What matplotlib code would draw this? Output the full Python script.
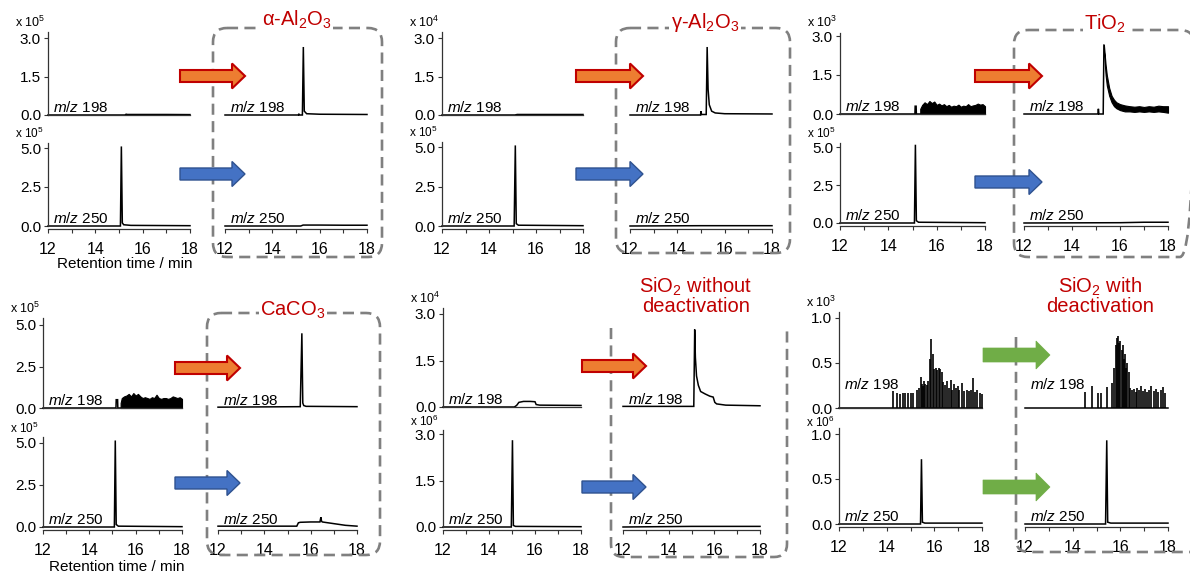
import matplotlib
matplotlib.use("Agg")
import matplotlib.pyplot as plt
import matplotlib.transforms as mtransforms
from matplotlib.patches import Polygon, PathPatch, FancyBboxPatch
from matplotlib.path import Path

plt.rcParams['font.family'] = ['Liberation Sans', 'DejaVu Sans']
plt.rcParams['mathtext.fontset'] = 'custom'
plt.rcParams['mathtext.rm'] = 'Liberation Sans'
plt.rcParams['mathtext.it'] = 'Liberation Sans:italic'
plt.rcParams['mathtext.bf'] = 'Liberation Sans:bold'
plt.rcParams['mathtext.sf'] = 'Liberation Sans'

W, H = 1190, 575

# ---------------------------------------------------------------- data
titles = [r"α-Al$_2$O$_3$", r"γ-Al$_2$O$_3$", r"TiO$_2$", r"CaCO$_3$",
          "SiO$_2$ without\ndeactivation", "SiO$_2$ with\ndeactivation"]
mz_labels = [r"$\mathit{m/z}$ 198", r"$\mathit{m/z}$ 250"]
exp198 = [5, 4, 3, 5, 4, 3]
exp250 = [5, 5, 5, 5, 6, 6]
yticks198 = [[0.0, 1.5, 3.0], [0.0, 1.5, 3.0], [0.0, 1.5, 3.0], [0.0, 2.5, 5.0], [0.0, 1.5, 3.0], [0.0, 0.5, 1.0]]
yticks250 = [[0.0, 2.5, 5.0], [0.0, 2.5, 5.0], [0.0, 2.5, 5.0], [0.0, 2.5, 5.0], [0.0, 1.5, 3.0], [0.0, 0.5, 1.0]]
xmajor = [12, 14, 16, 18]
xminor = [13, 15, 17]
arrow_kind = ["ob", "ob", "ob", "ob", "ob", "gg"]

# panel a: alpha-Al2O3
a_l198_t = [12.0, 15.25, 15.3, 15.35, 16.0, 17.0, 18.0]
a_l198_y = [0.0, 0.0, 0.03, 0.02, 0.02, 0.02, 0.015]
a_l250_t = [12.0, 15.06, 15.1, 15.14, 15.2, 15.5, 18.0]
a_l250_y = [0.0, 0.0, 5.1, 0.2, 0.08, 0.04, 0.02]
a_r198_t = [12.0, 15.1, 15.12, 15.14, 15.27, 15.31, 15.35, 15.45, 16.0, 18.0]
a_r198_y = [0.0, 0.0, 0.05, 0.0, 0.0, 2.65, 0.15, 0.05, 0.03, 0.02]
a_r250_t = [12.0, 15.2, 15.3, 16.0, 17.0, 18.0]
a_r250_y = [0.0, 0.0, 0.06, 0.06, 0.05, 0.05]

# panel b: gamma-Al2O3
b_l198_t = [12.0, 15.1, 15.2, 18.0]
b_l198_y = [0.0, 0.0, 0.02, 0.02]
b_l250_t = [12.0, 15.07, 15.12, 15.16, 15.25, 18.0]
b_l250_y = [0.0, 0.0, 5.1, 0.15, 0.05, 0.02]
b_r198_t = [12.0, 14.98, 15.0, 15.02, 15.22, 15.26, 15.3, 15.35, 15.45, 15.6, 16.0, 18.0]
b_r198_y = [0.0, 0.0, 0.15, 0.02, 0.02, 2.65, 1.0, 0.4, 0.15, 0.08, 0.05, 0.04]
b_r250_t = [12.0, 15.0, 18.0]
b_r250_y = [0.0, 0.02, 0.02]

# panel c: TiO2
c_l198_t = [12.0, 15.1, 15.11, 15.15, 15.16, 15.3, 18.0]
c_l198_y = [0.0, 0.0, 0.3, 0.3, 0.0, 0.0, 0.0]
c_l198_band_t = [15.32, 15.4, 15.5, 15.6, 15.7, 15.8, 15.9, 16.0, 16.1, 16.2, 16.3, 16.4, 16.5, 16.6,
                 16.7, 16.8, 16.9, 17.0, 17.1, 17.2, 17.3, 17.4, 17.5, 17.6, 17.7, 17.8, 17.9, 18.0]
c_l198_band_hi = [0.2, 0.35, 0.45, 0.38, 0.5, 0.42, 0.48, 0.35, 0.4, 0.33, 0.38, 0.3, 0.35, 0.28,
                  0.32, 0.3, 0.36, 0.28, 0.32, 0.3, 0.38, 0.3, 0.33, 0.35, 0.4, 0.36, 0.38, 0.3]
c_l250_t = [12.0, 15.08, 15.12, 15.16, 15.25, 18.0]
c_l250_y = [0.0, 0.0, 5.15, 0.15, 0.05, 0.02]
c_r198_t = [12.0, 15.08, 15.1, 15.12, 15.3, 15.33]
c_r198_y = [0.0, 0.0, 0.2, 0.0, 0.0, 2.65]
c_r198_band_t = [15.33, 15.4, 15.45, 15.55, 15.65, 15.75, 15.85, 16.0, 16.2, 16.4, 16.6, 16.8, 17.0, 17.2, 17.4, 17.6, 17.8, 18.0]
c_r198_band_lo = [2.4, 1.5, 1.1, 0.7, 0.45, 0.3, 0.22, 0.15, 0.1, 0.1, 0.08, 0.1, 0.08, 0.1, 0.08, 0.1, 0.08, 0.05]
c_r198_band_hi = [2.65, 1.9, 1.5, 1.0, 0.7, 0.55, 0.45, 0.38, 0.33, 0.3, 0.28, 0.3, 0.27, 0.3, 0.28, 0.32, 0.3, 0.3]
c_r250_t = [12.0, 16.0, 17.0, 18.0]
c_r250_y = [0.0, 0.02, 0.05, 0.05]

# panel d: CaCO3
d_l198_t = [12.0, 15.15, 15.16, 15.22, 15.23, 18.0]
d_l198_y = [0.0, 0.0, 0.5, 0.5, 0.0, 0.0]
d_l198_band_t = [15.35, 15.4, 15.5, 15.6, 15.7, 15.8, 15.9, 16.0, 16.1, 16.2, 16.3, 16.4, 16.5, 16.6,
                 16.7, 16.8, 16.9, 17.0, 17.1, 17.2, 17.3, 17.4, 17.5, 17.6, 17.7, 17.8, 17.9, 18.0]
d_l198_band_hi = [0.3, 0.6, 0.7, 0.75, 0.85, 0.7, 0.9, 0.75, 0.85, 0.7, 0.6, 0.65, 0.6, 0.55,
                  0.65, 0.6, 0.8, 0.6, 0.55, 0.6, 0.6, 0.55, 0.6, 0.7, 0.65, 0.6, 0.65, 0.55]
d_l250_t = [12.0, 15.08, 15.12, 15.16, 15.25, 18.0]
d_l250_y = [0.0, 0.0, 5.15, 0.15, 0.05, 0.02]
d_r198_t = [12.0, 15.55, 15.62, 15.66, 15.7, 15.8, 18.0]
d_r198_y = [0.05, 0.08, 4.5, 0.3, 0.15, 0.1, 0.08]
d_r250_t = [12.0, 15.4, 15.47, 15.55, 16.0, 16.4, 16.44, 16.47, 16.5, 16.6, 17.0, 17.5, 18.0]
d_r250_y = [0.05, 0.05, 0.25, 0.28, 0.3, 0.3, 0.58, 0.35, 0.3, 0.28, 0.2, 0.1, 0.05]

# panel e: SiO2 without deactivation
e_l198_t = [12.0, 15.1, 15.2, 15.3, 15.5, 15.8, 16.0, 16.05, 16.2, 18.0]
e_l198_y = [0.0, 0.0, 0.05, 0.15, 0.18, 0.18, 0.17, 0.08, 0.06, 0.05]
e_l250_t = [12.0, 14.97, 15.02, 15.06, 15.15, 18.0]
e_l250_y = [0.0, 0.0, 2.8, 0.05, 0.02, 0.01]
e_r198_t = [12.0, 15.1, 15.14, 15.17, 15.22, 15.3, 15.4, 15.6, 15.8, 15.95, 16.02, 16.1, 16.5, 18.0]
e_r198_y = [0.02, 0.02, 2.5, 1.6, 1.0, 0.7, 0.5, 0.42, 0.35, 0.32, 0.15, 0.1, 0.06, 0.04]
e_r250_t = [12.0, 15.0, 18.0]
e_r250_y = [0.0, 0.02, 0.02]

# panel f: SiO2 with deactivation
f_l198_t = [12.0, 18.0]
f_l198_y = [0.0, 0.0]
f_l198_spike_t = [14.25, 14.45, 14.58, 14.68, 14.78, 14.88, 15.0, 15.12, 15.28, 15.36, 15.42, 15.47, 15.52,
                  15.56, 15.62, 15.68, 15.75, 15.82, 15.88, 15.93, 15.98, 16.05, 16.12, 16.18, 16.25, 16.32,
                  16.38, 16.45, 16.52, 16.6, 16.68, 16.75, 16.82, 16.9, 16.98, 17.05, 17.15, 17.25, 17.35,
                  17.45, 17.55, 17.62, 17.7, 17.8, 17.9, 17.98]
f_l198_spike_h = [0.19, 0.17, 0.16, 0.17, 0.17, 0.17, 0.17, 0.17, 0.2, 0.22, 0.35, 0.27, 0.25,
                  0.3, 0.27, 0.26, 0.3, 0.55, 0.77, 0.6, 0.43, 0.45, 0.42, 0.44, 0.43, 0.4,
                  0.29, 0.26, 0.3, 0.22, 0.31, 0.2, 0.27, 0.22, 0.25, 0.2, 0.28, 0.19, 0.2,
                  0.19, 0.2, 0.33, 0.18, 0.2, 0.17, 0.16]
f_l250_t = [12.0, 15.42, 15.46, 15.5, 15.6, 18.0]
f_l250_y = [0.0, 0.0, 0.72, 0.02, 0.01, 0.01]
f_r198_t = [12.0, 18.0]
f_r198_y = [0.0, 0.0]
f_r198_spike_t = [14.52, 14.8, 15.05, 15.19, 15.43, 15.64, 15.75, 15.8, 15.85, 15.9, 15.95, 16.0, 16.05,
                  16.1, 16.15, 16.2, 16.25, 16.3, 16.36, 16.42, 16.5, 16.58, 16.65, 16.72, 16.8, 16.88,
                  16.95, 17.05, 17.12, 17.2, 17.3, 17.4, 17.5, 17.6, 17.7, 17.8, 17.88]
f_r198_spike_h = [0.18, 0.25, 0.17, 0.17, 0.23, 0.28, 0.45, 0.7, 0.78, 0.8, 0.72, 0.75, 0.65,
                  0.7, 0.55, 0.6, 0.45, 0.5, 0.4, 0.22, 0.2, 0.21, 0.18, 0.22, 0.2, 0.25,
                  0.19, 0.21, 0.18, 0.2, 0.25, 0.19, 0.21, 0.18, 0.2, 0.23, 0.17]
f_r250_t = [12.0, 15.38, 15.43, 15.47, 15.6, 18.0]
f_r250_y = [0.0, 0.0, 0.93, 0.02, 0.01, 0.01]

lines = [
    dict(l198=(a_l198_t, a_l198_y), l250=(a_l250_t, a_l250_y), r198=(a_r198_t, a_r198_y), r250=(a_r250_t, a_r250_y)),
    dict(l198=(b_l198_t, b_l198_y), l250=(b_l250_t, b_l250_y), r198=(b_r198_t, b_r198_y), r250=(b_r250_t, b_r250_y)),
    dict(l198=(c_l198_t, c_l198_y), l250=(c_l250_t, c_l250_y), r198=(c_r198_t, c_r198_y), r250=(c_r250_t, c_r250_y)),
    dict(l198=(d_l198_t, d_l198_y), l250=(d_l250_t, d_l250_y), r198=(d_r198_t, d_r198_y), r250=(d_r250_t, d_r250_y)),
    dict(l198=(e_l198_t, e_l198_y), l250=(e_l250_t, e_l250_y), r198=(e_r198_t, e_r198_y), r250=(e_r250_t, e_r250_y)),
    dict(l198=(f_l198_t, f_l198_y), l250=(f_l250_t, f_l250_y), r198=(f_r198_t, f_r198_y), r250=(f_r250_t, f_r250_y)),
]
bands = {  # (panel, trace) -> (t, lo, hi)
    (2, 'l198'): (c_l198_band_t, [0.0] * len(c_l198_band_t), c_l198_band_hi),
    (2, 'r198'): (c_r198_band_t, c_r198_band_lo, c_r198_band_hi),
    (3, 'l198'): (d_l198_band_t, [0.0] * len(d_l198_band_t), d_l198_band_hi),
}
spikes = {
    (5, 'l198'): (f_l198_spike_t, f_l198_spike_h),
    (5, 'r198'): (f_r198_spike_t, f_r198_spike_h),
}

# ---------------------------------------------------------------- layout (pixels)
GEOM = [
    dict(lx=(48, 190), rx=(225, 367), top=(115, 38, 32), bot=(226, 148, 143), title=(297, 20), arr=(180, 245, 76, 174), mz198=3, sc=(22, 133)),
    dict(lx=(442, 583), rx=(630, 772), top=(115, 38, 32), bot=(226, 147, 142), title=(705, 22), arr=(576, 643, 76, 174), mz198=3, sc=(22, 132)),
    dict(lx=(840, 985), rx=(1024, 1168), top=(114, 36, 33), bot=(223, 147, 143), title=(1105, 24), arr=(975, 1042, 76, 182), mz198=3, sc=(22, 133)),
    dict(lx=(43, 182), rx=(218, 357), top=(408, 325, 318), bot=(527, 443, 437), title=(293, 310), arr=(175, 240, 368, 483), mz198=3, sc=(308, 428)),
    dict(lx=(443, 581), rx=(623, 760), top=(407, 314, 308), bot=(527, 434, 430), title=(696, 296), arr=(582, 646, 366, 487), mz198=3, sc=(298, 421)),
    dict(lx=(839, 982), rx=(1025, 1168), top=(408, 318, 312), bot=(524, 434, 428), title=(1100, 296), arr=(983, 1050, 355, 487), mz198=19, sc=(302, 422)),
]

fig = plt.figure(figsize=(W / 100, H / 100), dpi=100)

TICKC = '#333333'


def make_ax(xr, yspec, vmax):
    x0, x1 = xr
    y0, ytick, ytop = yspec
    ax = fig.add_axes([x0 / W, 1 - y0 / H, (x1 - x0) / W, (y0 - ytop) / H])
    ax.set_xlim(12, 18)
    ax.set_ylim(0, vmax * (y0 - ytop) / (y0 - ytick))
    ax.patch.set_visible(False)
    for s in ax.spines.values():
        s.set_visible(False)
        s.set_color(TICKC)
        s.set_linewidth(0.9)
    ax.tick_params(axis='both', which='both', direction='out', length=3, width=0.8,
                   labelsize=11.5, pad=2, colors='black')
    ax.tick_params(axis='y', which='both', labelsize=11)
    ax.tick_params(axis='x', which='both', pad=7)
    ax.tick_params(axis='both', which='both', color=TICKC)
    return ax


def draw(ax, p, key, lw=1.1):
    t, y = lines[p][key]
    ax.plot(t, y, color='black', lw=lw, clip_on=False, solid_joinstyle='miter')
    if (p, key) in bands:
        bt, lo, hi = bands[(p, key)]
        ax.fill_between(bt, lo, hi, color='black', lw=0.8, clip_on=False)
    if (p, key) in spikes:
        st, sh = spikes[(p, key)]
        ax.vlines(st, 0, sh, color='black', lw=1.2, clip_on=False)


def mz(ax, label, dy=3):
    tr = mtransforms.offset_copy(ax.transAxes, fig=fig, x=5, y=dy, units='dots')
    ax.text(0, 0, label, transform=tr, ha='left', va='baseline', fontsize=11)


for p, g in enumerate(GEOM):
    top_max = yticks198[p][-1]
    bot_max = yticks250[p][-1]
    # left 198
    ax = make_ax(g['lx'], g['top'], top_max)
    ax.spines['left'].set_visible(True)
    ax.spines['bottom'].set_visible(True)
    ax.set_yticks(yticks198[p])
    ax.set_yticklabels([f"{v:.1f}" for v in yticks198[p]])
    ax.set_xticks([])
    draw(ax, p, 'l198')
    mz(ax, mz_labels[0], g['mz198'])
    # left 250
    ax = make_ax(g['lx'], g['bot'], bot_max)
    ax.spines['left'].set_visible(True)
    ax.spines['bottom'].set_visible(True)
    ax.spines['bottom'].set_position(('outward', 1.8))
    ax.set_yticks(yticks250[p])
    ax.set_yticklabels([f"{v:.1f}" for v in yticks250[p]])
    ax.set_xticks(xmajor)
    ax.set_xticks(xminor, minor=True)
    ax.set_xticklabels([str(v) for v in xmajor])
    draw(ax, p, 'l250')
    mz(ax, mz_labels[1])
    # right 198
    ax = make_ax(g['rx'], g['top'], top_max)
    ax.set_xticks([])
    ax.set_yticks([])
    draw(ax, p, 'r198')
    mz(ax, mz_labels[0], g['mz198'])
    # right 250
    ax = make_ax(g['rx'], g['bot'], bot_max)
    ax.spines['bottom'].set_visible(True)
    ax.spines['bottom'].set_position(('outward', 1.8))
    ax.set_yticks([])
    ax.set_xticks(xmajor)
    ax.set_xticks(xminor, minor=True)
    ax.set_xticklabels([str(v) for v in xmajor])
    draw(ax, p, 'r250')
    mz(ax, mz_labels[1])

# ---------------------------------------------------------------- overlay (pixel coordinates)
ov = fig.add_axes([0, 0, 1, 1], zorder=5)
ov.set_xlim(0, W)
ov.set_ylim(H, 0)
ov.axis('off')
ov.patch.set_visible(False)

BOXC = '#808080'
DASH = (0, (4.2, 2.4))
BLW = 1.9

# closed rounded boxes
for (x0, y0, x1, y1) in [(213, 28, 382, 257), (616, 28, 790, 253), (1014, 30, 1194, 257), (207, 313, 380, 555)]:
    ov.add_patch(FancyBboxPatch((x0, y0), x1 - x0, y1 - y0, boxstyle="round,pad=0,rounding_size=14",
                                fill=False, ec=BOXC, lw=BLW, ls=DASH, zorder=1))

# open boxes (bottom row, SiO2)
r = 13
pth = Path([(611, 328), (611, 557 - r), (611, 557), (611 + r, 557), (787 - r, 557), (787, 557), (787, 557 - r), (787, 327)],
           [Path.MOVETO, Path.LINETO, Path.CURVE3, Path.CURVE3, Path.LINETO, Path.CURVE3, Path.CURVE3, Path.LINETO])
ov.add_patch(PathPatch(pth, fill=False, ec=BOXC, lw=BLW, ls=DASH, zorder=1))
pth = Path([(1016, 337), (1016, 552 - r), (1016, 552), (1016 + r, 552), (1196, 552)],
           [Path.MOVETO, Path.LINETO, Path.CURVE3, Path.CURVE3, Path.LINETO])
ov.add_patch(PathPatch(pth, fill=False, ec=BOXC, lw=BLW, ls=DASH, zorder=1))


def block_arrow(x0, x1, yc, sh, hh, hl, fc, ec, lw):
    pts = [(x0, yc - sh / 2), (x1 - hl, yc - sh / 2), (x1 - hl, yc - hh / 2), (x1, yc),
           (x1 - hl, yc + hh / 2), (x1 - hl, yc + sh / 2), (x0, yc + sh / 2)]
    ov.add_patch(Polygon(pts, closed=True, fc=fc, ec=ec, lw=lw, joinstyle='miter', zorder=3))


ARROW_STYLE = {
    'o': dict(sh=12, hh=25, hl=13, fc='#ED7D31', ec='#C00000', lw=1.5),
    'b': dict(sh=12, hh=25, hl=13, fc='#4472C4', ec='#2F528F', lw=1.0),
    'g': dict(sh=14, hh=28, hl=14, fc='#70AD47', ec='#70AD47', lw=0.5),
}

for p, g in enumerate(GEOM):
    x0, x1, ya, yb = g['arr']
    block_arrow(x0, x1, ya, **ARROW_STYLE[arrow_kind[p][0]])
    block_arrow(x0, x1, yb, **ARROW_STYLE[arrow_kind[p][1]])
    # titles
    tx, ty = g['title']
    ov.text(tx, ty, titles[p], ha='center', va='center', fontsize=14.5, color='#C00000',
            linespacing=0.95, multialignment='center',
            bbox=dict(fc='white', ec='none', pad=1.0), zorder=4)
    # scale labels
    lx = g['lx'][0]
    s1, s2 = g['sc']
    ov.text(lx - 33, s1, "x 10$^{%d}$" % exp198[p], ha='left', va='center', fontsize=9, zorder=4)
    ov.text(lx - 33, s2, "x 10$^{%d}$" % exp250[p], ha='left', va='center', fontsize=8.5, zorder=4)

ov.text(125, 264, "Retention time / min", ha='center', va='center', fontsize=11)
ov.text(117, 567, "Retention time / min", ha='center', va='center', fontsize=11)

fig.savefig("out.png", dpi=100)
